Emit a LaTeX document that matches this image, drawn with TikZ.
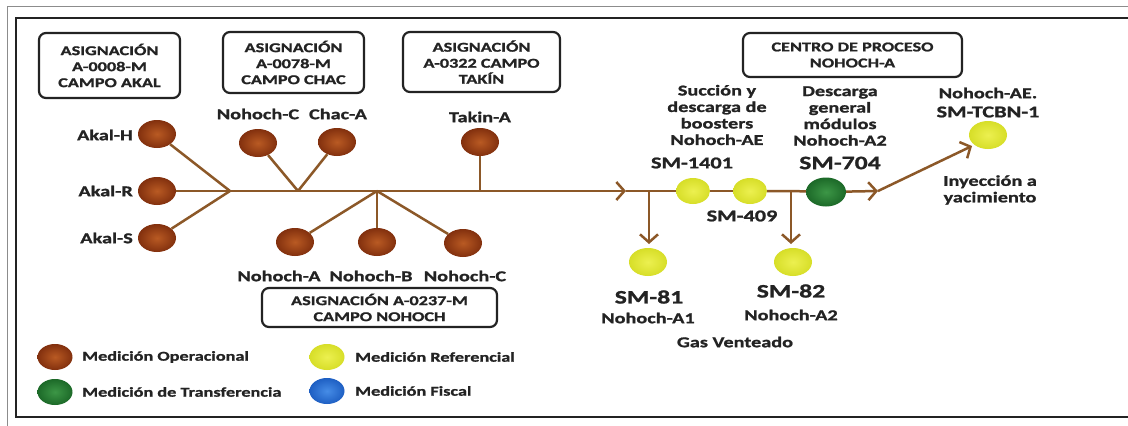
\documentclass[tikz,border=0pt]{standalone}
\usepackage{fontspec}
\setmainfont{Carlito}[FakeStretch=1.35, BoldFeatures={FakeBold=1.2}]
\usetikzlibrary{arrows.meta,shapes.geometric}
\definecolor{ln}{RGB}{140,88,40}
\definecolor{brin}{RGB}{185,90,35}
\definecolor{brout}{RGB}{130,48,14}
\definecolor{yein}{RGB}{236,240,80}
\definecolor{yeout}{RGB}{215,222,40}
\definecolor{grin}{RGB}{60,150,70}
\definecolor{grout}{RGB}{28,105,40}
\definecolor{blin}{RGB}{70,140,230}
\definecolor{blout}{RGB}{30,95,195}
\definecolor{tx}{RGB}{35,35,35}
\begin{document}
\begin{tikzpicture}[x=1pt,y=-1pt,
  meas/.style={ellipse, minimum width=38pt, minimum height=28pt, inner sep=0pt},
  op/.style={meas, shading=radial, inner color=brin, outer color=brout},
  rf/.style={meas, shading=radial, inner color=yein, outer color=yeout},
  rfs/.style={rf, minimum width=34pt, minimum height=26pt},
  tr/.style={meas, shading=radial, inner color=grin, outer color=grout},
  fi/.style={meas, shading=radial, inner color=blin, outer color=blout},
  lg/.style={meas, minimum width=35pt, minimum height=26pt},
  box/.style={draw=tx, line width=2.2pt, rounded corners=7pt, align=center, inner sep=0pt,
    text=tx, font=\fontsize{13.5}{16}\selectfont\bfseries},
  lbl/.style={align=center, inner sep=0pt, text=tx, font=\fontsize{15}{16.5}\selectfont\bfseries},
  big/.style={align=center, inner sep=0pt, text=tx, font=\fontsize{19}{21}\selectfont\bfseries},
  mid/.style={align=center, inner sep=0pt, text=tx, font=\fontsize{16.5}{18}\selectfont\bfseries},
  leg/.style={anchor=west, inner sep=0pt, text=tx, font=\fontsize{13.5}{16}\selectfont\bfseries},
  pipe/.style={draw=ln, line width=2.5pt},
  arr/.style={pipe, -{Straight Barb[length=8pt,width=18pt]}}
]
\useasboundingbox (0,0) rectangle (1128,426);
\fill[white] (0,0) rectangle (1128,426);
% frame
\draw[black!45, line width=0.8pt] (7,426) -- (7,6) -- (1128,6);
\draw[tx, line width=2.8pt] (1140,18) -- (16,18) -- (16,417) -- (1140,417);

% boxes
\node[box, minimum width=141pt, minimum height=65pt] (b1) at (109.5,65.5) {ASIGNACIÓN\\A-0008-M\\CAMPO AKAL};
\node[box, minimum width=141pt, minimum height=61pt] (b2) at (293.5,62.5) {ASIGNACIÓN\\A-0078-M\\CAMPO CHAC};
\node[box, minimum width=157pt, minimum height=60pt] (b3) at (481.5,62) {ASIGNACIÓN\\A-0322 CAMPO\\TAKÍN};
\node[box, minimum width=219pt, minimum height=44pt] (b4) at (852.5,55) {CENTRO DE PROCESO\\NOHOCH-A};
\node[box, minimum width=235pt, minimum height=39pt] (b5) at (379.5,307.5) {ASIGNACIÓN A-0237-M\\CAMPO NOHOCH};

% measurement nodes
\node[op] (akh) at (157,134) {};
\node[op] (akr) at (157,191) {};
\node[op] (aks) at (157,238) {};
\node[op] (nct) at (258,143) {};
\node[op] (cha) at (337,142) {};
\node[op] (tak) at (480,142) {};
\node[op] (nha) at (295,242) {};
\node[op] (nhb) at (377,242) {};
\node[op] (nhc) at (463,243) {};
\node[rfs] (s1401) at (693,191) {};
\node[rfs] (s409) at (750,191) {};
\node[tr, minimum width=40pt, minimum height=29pt] (s704) at (826,192) {};
\node[rf] (s81) at (648,262) {};
\node[rf] (s82) at (793,262) {};
\node[rf] (tcbn) at (988,135) {};

% junctions
\coordinate (j1) at (230,191);
\coordinate (j2) at (298,191);
\coordinate (j3) at (377,191);
\coordinate (j4) at (480,191);
\coordinate (a1) at (626,191);
\coordinate (j5) at (649,191);
\coordinate (j6) at (791,191);
\coordinate (a2) at (878,191);
\coordinate (d81) at (649,244);
\coordinate (d82) at (791,244);
\coordinate (tip) at (972,146);

% pipes
\draw[pipe] (akh) -- (j1);
\draw[pipe] (aks) -- (j1);
\draw[pipe] (akr) -- (j1) -- (j2) -- (j3) -- (j4);
\draw[pipe] (nct) -- (j2);
\draw[pipe] (cha) -- (j2);
\draw[pipe] (tak) -- (j4);
\draw[pipe] (nha) -- (j3);
\draw[pipe] (nhb) -- (j3);
\draw[pipe] (nhc) -- (j3);
\draw[arr] (j4) -- (a1);
\draw[pipe] (a1) -- (j5) -- (s1401);
\draw[pipe] (s1401) -- (s409);
\draw[pipe] (s409) -- (j6) -- (s704);
\draw[arr] (j5) -- (d81);
\draw[arr] (j6) -- (d82);
\draw[arr] (s704) -- (a2);
\draw[arr] (a2) -- (tip);

% labels
\node[lbl, anchor=east] (lakh) at (133,135) {Akal-H};
\node[lbl, anchor=east] (lakr) at (133,191) {Akal-R};
\node[lbl, anchor=east] (laks) at (133,238) {Akal-S};
\node[lbl] (lnct) at (258,114) {Nohoch-C};
\node[lbl] (lcha) at (338,114) {Chac-A};
\node[lbl] (ltak) at (480,117) {Takin-A};
\node[lbl] (lsuc) at (717,115) {Succión y\\descarga de\\boosters\\Nohoch-AE};
\node[mid] (l1401) at (692,163) {SM-1401};
\node[lbl] (ldes) at (840,116) {Descarga\\general\\módulos\\Nohoch-A2};
\node[big] (l704) at (840,163) {SM-704};
\node[lbl] (lnae) at (988,93) {Nohoch-AE.};
\node[mid] (ltcbn) at (988,112) {SM-TCBN-1};
\node[lbl] (liny) at (990,190) {Inyección a\\yacimiento};
\node[mid] (l409) at (742,216) {SM-409};
\node[big] (l81) at (649,297) {SM-81};
\node[lbl] (la1) at (648,318) {Nohoch-A1};
\node[big] (l82) at (791,291) {SM-82};
\node[lbl] (la2) at (791,315) {Nohoch-A2};
\node[lbl] (lgas) at (735,342) {Gas Venteado};
\node[lbl] (lnha) at (279,276) {Nohoch-A};
\node[lbl] (lnhb) at (371,276) {Nohoch-B};
\node[lbl] (lnhc) at (465,276) {Nohoch-C};

% legend
\node[lg, shading=radial, inner color=brin, outer color=brout] (g1) at (55,357) {};
\node[lg, shading=radial, inner color=grin, outer color=grout] (g2) at (55,392) {};
\node[lg, shading=radial, inner color=yein, outer color=yeout] (g3) at (327,357) {};
\node[lg, shading=radial, inner color=blin, outer color=blout] (g4) at (327,391) {};
\node[leg] (t1) at (82,357) {Medición Operacional};
\node[leg] (t2) at (82,392) {Medición de Transferencia};
\node[leg] (t3) at (355,357) {Medición Referencial};
\node[leg] (t4) at (355,391) {Medición Fiscal};
\end{tikzpicture}
\end{document}
